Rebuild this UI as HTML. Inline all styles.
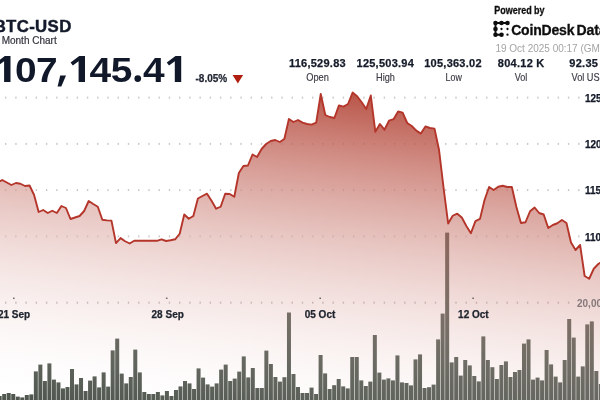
<!DOCTYPE html>
<html><head><meta charset="utf-8"><title>BTC-USD</title>
<style>
html,body{margin:0;padding:0;background:#fff;width:600px;height:400px;overflow:hidden;}
#c{width:600px;height:400px;overflow:hidden;position:relative;background:#fff;font-family:"Liberation Sans",sans-serif;}
svg{position:absolute;left:-20px;top:-20px;display:block;filter:blur(0.4px);}
text{font-family:"Liberation Sans",sans-serif;}
</style></head><body><div id="c">
<svg width="640" height="440" viewBox="-20 -20 640 440">
<defs>
<linearGradient id="ag" gradientUnits="userSpaceOnUse" x1="0" y1="50.3" x2="-42.2" y2="401.9">
<stop offset="0" stop-color="#a82919" stop-opacity="0.795"/>
<stop offset="1" stop-color="#ffffff" stop-opacity="0"/>
</linearGradient>
<filter id="lb" x="-5%" y="-20%" width="110%" height="140%"><feGaussianBlur stdDeviation="0.45"/></filter>
</defs>
<rect x="-20" y="-20" width="640" height="440" fill="#fff"/>
<g fill="#c9c9c9"><rect x="5.00" y="96.60" width="1.4" height="2"/><rect x="15.23" y="96.60" width="1.4" height="2"/><rect x="25.47" y="96.60" width="1.4" height="2"/><rect x="35.70" y="96.60" width="1.4" height="2"/><rect x="45.94" y="96.60" width="1.4" height="2"/><rect x="56.17" y="96.60" width="1.4" height="2"/><rect x="66.40" y="96.60" width="1.4" height="2"/><rect x="76.64" y="96.60" width="1.4" height="2"/><rect x="86.87" y="96.60" width="1.4" height="2"/><rect x="97.11" y="96.60" width="1.4" height="2"/><rect x="107.34" y="96.60" width="1.4" height="2"/><rect x="117.57" y="96.60" width="1.4" height="2"/><rect x="127.81" y="96.60" width="1.4" height="2"/><rect x="138.04" y="96.60" width="1.4" height="2"/><rect x="148.28" y="96.60" width="1.4" height="2"/><rect x="158.51" y="96.60" width="1.4" height="2"/><rect x="168.74" y="96.60" width="1.4" height="2"/><rect x="178.98" y="96.60" width="1.4" height="2"/><rect x="189.21" y="96.60" width="1.4" height="2"/><rect x="199.45" y="96.60" width="1.4" height="2"/><rect x="209.68" y="96.60" width="1.4" height="2"/><rect x="219.91" y="96.60" width="1.4" height="2"/><rect x="230.15" y="96.60" width="1.4" height="2"/><rect x="240.38" y="96.60" width="1.4" height="2"/><rect x="250.62" y="96.60" width="1.4" height="2"/><rect x="260.85" y="96.60" width="1.4" height="2"/><rect x="271.08" y="96.60" width="1.4" height="2"/><rect x="281.32" y="96.60" width="1.4" height="2"/><rect x="291.55" y="96.60" width="1.4" height="2"/><rect x="301.79" y="96.60" width="1.4" height="2"/><rect x="312.02" y="96.60" width="1.4" height="2"/><rect x="322.25" y="96.60" width="1.4" height="2"/><rect x="332.49" y="96.60" width="1.4" height="2"/><rect x="342.72" y="96.60" width="1.4" height="2"/><rect x="352.96" y="96.60" width="1.4" height="2"/><rect x="363.19" y="96.60" width="1.4" height="2"/><rect x="373.42" y="96.60" width="1.4" height="2"/><rect x="383.66" y="96.60" width="1.4" height="2"/><rect x="393.89" y="96.60" width="1.4" height="2"/><rect x="404.13" y="96.60" width="1.4" height="2"/><rect x="414.36" y="96.60" width="1.4" height="2"/><rect x="424.59" y="96.60" width="1.4" height="2"/><rect x="434.83" y="96.60" width="1.4" height="2"/><rect x="445.06" y="96.60" width="1.4" height="2"/><rect x="455.30" y="96.60" width="1.4" height="2"/><rect x="465.53" y="96.60" width="1.4" height="2"/><rect x="475.76" y="96.60" width="1.4" height="2"/><rect x="486.00" y="96.60" width="1.4" height="2"/><rect x="496.23" y="96.60" width="1.4" height="2"/><rect x="506.47" y="96.60" width="1.4" height="2"/><rect x="516.70" y="96.60" width="1.4" height="2"/><rect x="526.93" y="96.60" width="1.4" height="2"/><rect x="537.17" y="96.60" width="1.4" height="2"/><rect x="547.40" y="96.60" width="1.4" height="2"/><rect x="557.64" y="96.60" width="1.4" height="2"/><rect x="567.87" y="96.60" width="1.4" height="2"/><rect x="578.10" y="96.60" width="1.4" height="2"/></g><g fill="#c9c9c9"><rect x="5.00" y="142.90" width="1.4" height="2"/><rect x="15.23" y="142.90" width="1.4" height="2"/><rect x="25.47" y="142.90" width="1.4" height="2"/><rect x="35.70" y="142.90" width="1.4" height="2"/><rect x="45.94" y="142.90" width="1.4" height="2"/><rect x="56.17" y="142.90" width="1.4" height="2"/><rect x="66.40" y="142.90" width="1.4" height="2"/><rect x="76.64" y="142.90" width="1.4" height="2"/><rect x="86.87" y="142.90" width="1.4" height="2"/><rect x="97.11" y="142.90" width="1.4" height="2"/><rect x="107.34" y="142.90" width="1.4" height="2"/><rect x="117.57" y="142.90" width="1.4" height="2"/><rect x="127.81" y="142.90" width="1.4" height="2"/><rect x="138.04" y="142.90" width="1.4" height="2"/><rect x="148.28" y="142.90" width="1.4" height="2"/><rect x="158.51" y="142.90" width="1.4" height="2"/><rect x="168.74" y="142.90" width="1.4" height="2"/><rect x="178.98" y="142.90" width="1.4" height="2"/><rect x="189.21" y="142.90" width="1.4" height="2"/><rect x="199.45" y="142.90" width="1.4" height="2"/><rect x="209.68" y="142.90" width="1.4" height="2"/><rect x="219.91" y="142.90" width="1.4" height="2"/><rect x="230.15" y="142.90" width="1.4" height="2"/><rect x="240.38" y="142.90" width="1.4" height="2"/><rect x="250.62" y="142.90" width="1.4" height="2"/><rect x="260.85" y="142.90" width="1.4" height="2"/><rect x="271.08" y="142.90" width="1.4" height="2"/><rect x="281.32" y="142.90" width="1.4" height="2"/><rect x="291.55" y="142.90" width="1.4" height="2"/><rect x="301.79" y="142.90" width="1.4" height="2"/><rect x="312.02" y="142.90" width="1.4" height="2"/><rect x="322.25" y="142.90" width="1.4" height="2"/><rect x="332.49" y="142.90" width="1.4" height="2"/><rect x="342.72" y="142.90" width="1.4" height="2"/><rect x="352.96" y="142.90" width="1.4" height="2"/><rect x="363.19" y="142.90" width="1.4" height="2"/><rect x="373.42" y="142.90" width="1.4" height="2"/><rect x="383.66" y="142.90" width="1.4" height="2"/><rect x="393.89" y="142.90" width="1.4" height="2"/><rect x="404.13" y="142.90" width="1.4" height="2"/><rect x="414.36" y="142.90" width="1.4" height="2"/><rect x="424.59" y="142.90" width="1.4" height="2"/><rect x="434.83" y="142.90" width="1.4" height="2"/><rect x="445.06" y="142.90" width="1.4" height="2"/><rect x="455.30" y="142.90" width="1.4" height="2"/><rect x="465.53" y="142.90" width="1.4" height="2"/><rect x="475.76" y="142.90" width="1.4" height="2"/><rect x="486.00" y="142.90" width="1.4" height="2"/><rect x="496.23" y="142.90" width="1.4" height="2"/><rect x="506.47" y="142.90" width="1.4" height="2"/><rect x="516.70" y="142.90" width="1.4" height="2"/><rect x="526.93" y="142.90" width="1.4" height="2"/><rect x="537.17" y="142.90" width="1.4" height="2"/><rect x="547.40" y="142.90" width="1.4" height="2"/><rect x="557.64" y="142.90" width="1.4" height="2"/><rect x="567.87" y="142.90" width="1.4" height="2"/><rect x="578.10" y="142.90" width="1.4" height="2"/></g><g fill="#c9c9c9"><rect x="5.00" y="189.10" width="1.4" height="2"/><rect x="15.23" y="189.10" width="1.4" height="2"/><rect x="25.47" y="189.10" width="1.4" height="2"/><rect x="35.70" y="189.10" width="1.4" height="2"/><rect x="45.94" y="189.10" width="1.4" height="2"/><rect x="56.17" y="189.10" width="1.4" height="2"/><rect x="66.40" y="189.10" width="1.4" height="2"/><rect x="76.64" y="189.10" width="1.4" height="2"/><rect x="86.87" y="189.10" width="1.4" height="2"/><rect x="97.11" y="189.10" width="1.4" height="2"/><rect x="107.34" y="189.10" width="1.4" height="2"/><rect x="117.57" y="189.10" width="1.4" height="2"/><rect x="127.81" y="189.10" width="1.4" height="2"/><rect x="138.04" y="189.10" width="1.4" height="2"/><rect x="148.28" y="189.10" width="1.4" height="2"/><rect x="158.51" y="189.10" width="1.4" height="2"/><rect x="168.74" y="189.10" width="1.4" height="2"/><rect x="178.98" y="189.10" width="1.4" height="2"/><rect x="189.21" y="189.10" width="1.4" height="2"/><rect x="199.45" y="189.10" width="1.4" height="2"/><rect x="209.68" y="189.10" width="1.4" height="2"/><rect x="219.91" y="189.10" width="1.4" height="2"/><rect x="230.15" y="189.10" width="1.4" height="2"/><rect x="240.38" y="189.10" width="1.4" height="2"/><rect x="250.62" y="189.10" width="1.4" height="2"/><rect x="260.85" y="189.10" width="1.4" height="2"/><rect x="271.08" y="189.10" width="1.4" height="2"/><rect x="281.32" y="189.10" width="1.4" height="2"/><rect x="291.55" y="189.10" width="1.4" height="2"/><rect x="301.79" y="189.10" width="1.4" height="2"/><rect x="312.02" y="189.10" width="1.4" height="2"/><rect x="322.25" y="189.10" width="1.4" height="2"/><rect x="332.49" y="189.10" width="1.4" height="2"/><rect x="342.72" y="189.10" width="1.4" height="2"/><rect x="352.96" y="189.10" width="1.4" height="2"/><rect x="363.19" y="189.10" width="1.4" height="2"/><rect x="373.42" y="189.10" width="1.4" height="2"/><rect x="383.66" y="189.10" width="1.4" height="2"/><rect x="393.89" y="189.10" width="1.4" height="2"/><rect x="404.13" y="189.10" width="1.4" height="2"/><rect x="414.36" y="189.10" width="1.4" height="2"/><rect x="424.59" y="189.10" width="1.4" height="2"/><rect x="434.83" y="189.10" width="1.4" height="2"/><rect x="445.06" y="189.10" width="1.4" height="2"/><rect x="455.30" y="189.10" width="1.4" height="2"/><rect x="465.53" y="189.10" width="1.4" height="2"/><rect x="475.76" y="189.10" width="1.4" height="2"/><rect x="486.00" y="189.10" width="1.4" height="2"/><rect x="496.23" y="189.10" width="1.4" height="2"/><rect x="506.47" y="189.10" width="1.4" height="2"/><rect x="516.70" y="189.10" width="1.4" height="2"/><rect x="526.93" y="189.10" width="1.4" height="2"/><rect x="537.17" y="189.10" width="1.4" height="2"/><rect x="547.40" y="189.10" width="1.4" height="2"/><rect x="557.64" y="189.10" width="1.4" height="2"/><rect x="567.87" y="189.10" width="1.4" height="2"/><rect x="578.10" y="189.10" width="1.4" height="2"/></g><g fill="#c9c9c9"><rect x="5.00" y="235.40" width="1.4" height="2"/><rect x="15.23" y="235.40" width="1.4" height="2"/><rect x="25.47" y="235.40" width="1.4" height="2"/><rect x="35.70" y="235.40" width="1.4" height="2"/><rect x="45.94" y="235.40" width="1.4" height="2"/><rect x="56.17" y="235.40" width="1.4" height="2"/><rect x="66.40" y="235.40" width="1.4" height="2"/><rect x="76.64" y="235.40" width="1.4" height="2"/><rect x="86.87" y="235.40" width="1.4" height="2"/><rect x="97.11" y="235.40" width="1.4" height="2"/><rect x="107.34" y="235.40" width="1.4" height="2"/><rect x="117.57" y="235.40" width="1.4" height="2"/><rect x="127.81" y="235.40" width="1.4" height="2"/><rect x="138.04" y="235.40" width="1.4" height="2"/><rect x="148.28" y="235.40" width="1.4" height="2"/><rect x="158.51" y="235.40" width="1.4" height="2"/><rect x="168.74" y="235.40" width="1.4" height="2"/><rect x="178.98" y="235.40" width="1.4" height="2"/><rect x="189.21" y="235.40" width="1.4" height="2"/><rect x="199.45" y="235.40" width="1.4" height="2"/><rect x="209.68" y="235.40" width="1.4" height="2"/><rect x="219.91" y="235.40" width="1.4" height="2"/><rect x="230.15" y="235.40" width="1.4" height="2"/><rect x="240.38" y="235.40" width="1.4" height="2"/><rect x="250.62" y="235.40" width="1.4" height="2"/><rect x="260.85" y="235.40" width="1.4" height="2"/><rect x="271.08" y="235.40" width="1.4" height="2"/><rect x="281.32" y="235.40" width="1.4" height="2"/><rect x="291.55" y="235.40" width="1.4" height="2"/><rect x="301.79" y="235.40" width="1.4" height="2"/><rect x="312.02" y="235.40" width="1.4" height="2"/><rect x="322.25" y="235.40" width="1.4" height="2"/><rect x="332.49" y="235.40" width="1.4" height="2"/><rect x="342.72" y="235.40" width="1.4" height="2"/><rect x="352.96" y="235.40" width="1.4" height="2"/><rect x="363.19" y="235.40" width="1.4" height="2"/><rect x="373.42" y="235.40" width="1.4" height="2"/><rect x="383.66" y="235.40" width="1.4" height="2"/><rect x="393.89" y="235.40" width="1.4" height="2"/><rect x="404.13" y="235.40" width="1.4" height="2"/><rect x="414.36" y="235.40" width="1.4" height="2"/><rect x="424.59" y="235.40" width="1.4" height="2"/><rect x="434.83" y="235.40" width="1.4" height="2"/><rect x="445.06" y="235.40" width="1.4" height="2"/><rect x="455.30" y="235.40" width="1.4" height="2"/><rect x="465.53" y="235.40" width="1.4" height="2"/><rect x="475.76" y="235.40" width="1.4" height="2"/><rect x="486.00" y="235.40" width="1.4" height="2"/><rect x="496.23" y="235.40" width="1.4" height="2"/><rect x="506.47" y="235.40" width="1.4" height="2"/><rect x="516.70" y="235.40" width="1.4" height="2"/><rect x="526.93" y="235.40" width="1.4" height="2"/><rect x="537.17" y="235.40" width="1.4" height="2"/><rect x="547.40" y="235.40" width="1.4" height="2"/><rect x="557.64" y="235.40" width="1.4" height="2"/><rect x="567.87" y="235.40" width="1.4" height="2"/><rect x="578.10" y="235.40" width="1.4" height="2"/></g>
<path d="M-25.00,190.00 L-2.30,182.50 L2.25,180.00 L6.80,182.50 L11.35,185.00 L15.90,183.00 L20.45,183.75 L25.00,186.00 L29.55,185.50 L34.10,195.00 L38.65,212.00 L43.20,210.00 L47.75,213.00 L52.30,210.75 L56.85,213.00 L61.40,206.00 L65.95,208.00 L70.50,219.00 L75.05,217.50 L79.60,216.00 L84.15,211.00 L88.70,201.00 L93.25,204.00 L97.80,206.75 L102.35,219.75 L106.90,220.40 L111.45,220.60 L116.00,243.10 L120.55,238.10 L125.10,241.25 L129.65,243.50 L134.20,240.80 L138.75,240.60 L143.30,240.80 L147.85,240.80 L152.40,240.80 L156.95,240.80 L161.50,239.30 L166.05,241.00 L170.60,240.30 L175.15,239.30 L179.70,233.75 L184.25,214.50 L188.80,218.75 L193.35,216.00 L197.90,198.50 L202.45,196.00 L207.00,193.70 L211.55,200.75 L216.10,208.70 L220.65,206.75 L225.20,193.70 L229.75,194.00 L234.30,196.70 L238.85,173.00 L243.40,166.00 L247.95,165.50 L252.50,154.50 L257.05,157.00 L261.60,149.00 L266.15,144.00 L270.70,141.00 L275.25,140.00 L279.80,142.00 L284.35,139.00 L288.90,119.00 L293.45,122.00 L298.00,120.00 L302.55,122.60 L307.10,124.00 L311.65,124.60 L316.20,122.60 L320.75,94.00 L325.30,115.00 L329.85,117.00 L334.40,118.00 L338.95,105.40 L343.50,106.60 L348.05,104.00 L352.60,92.60 L357.15,96.25 L361.70,102.25 L366.25,109.00 L370.80,95.50 L375.35,131.80 L379.90,124.00 L384.45,129.70 L389.00,120.70 L393.55,119.20 L398.10,111.50 L402.65,112.60 L407.20,123.00 L411.75,126.00 L416.30,130.60 L420.85,133.60 L425.40,126.40 L429.95,128.00 L434.50,128.60 L439.05,150.00 L443.60,188.00 L448.15,223.50 L452.70,215.75 L457.25,213.70 L461.80,217.50 L466.35,226.00 L470.90,233.20 L475.45,221.20 L480.00,218.90 L484.55,200.00 L489.10,187.00 L493.65,190.00 L498.20,186.75 L502.75,185.75 L507.30,187.00 L511.85,187.00 L516.40,207.00 L520.95,223.00 L525.50,222.25 L530.05,211.25 L534.60,207.50 L539.15,213.00 L543.70,214.50 L548.25,228.00 L552.80,225.00 L557.35,223.25 L561.90,220.00 L566.45,223.00 L571.00,242.50 L575.55,250.00 L580.10,245.00 L584.65,276.00 L589.20,278.75 L593.75,268.75 L598.30,264.00 L602.85,261.00 L625.00,255.00 L625.00,430 L-25.00,430 Z" fill="#fff" fill-opacity="0.3"/>
<g fill="#c2b9b9"><rect x="5.00" y="301.70" width="1.4" height="2"/><rect x="15.23" y="301.70" width="1.4" height="2"/><rect x="25.47" y="301.70" width="1.4" height="2"/><rect x="35.70" y="301.70" width="1.4" height="2"/><rect x="45.94" y="301.70" width="1.4" height="2"/><rect x="56.17" y="301.70" width="1.4" height="2"/><rect x="66.40" y="301.70" width="1.4" height="2"/><rect x="76.64" y="301.70" width="1.4" height="2"/><rect x="86.87" y="301.70" width="1.4" height="2"/><rect x="97.11" y="301.70" width="1.4" height="2"/><rect x="107.34" y="301.70" width="1.4" height="2"/><rect x="117.57" y="301.70" width="1.4" height="2"/><rect x="127.81" y="301.70" width="1.4" height="2"/><rect x="138.04" y="301.70" width="1.4" height="2"/><rect x="148.28" y="301.70" width="1.4" height="2"/><rect x="158.51" y="301.70" width="1.4" height="2"/><rect x="168.74" y="301.70" width="1.4" height="2"/><rect x="178.98" y="301.70" width="1.4" height="2"/><rect x="189.21" y="301.70" width="1.4" height="2"/><rect x="199.45" y="301.70" width="1.4" height="2"/><rect x="209.68" y="301.70" width="1.4" height="2"/><rect x="219.91" y="301.70" width="1.4" height="2"/><rect x="230.15" y="301.70" width="1.4" height="2"/><rect x="240.38" y="301.70" width="1.4" height="2"/><rect x="250.62" y="301.70" width="1.4" height="2"/><rect x="260.85" y="301.70" width="1.4" height="2"/><rect x="271.08" y="301.70" width="1.4" height="2"/><rect x="281.32" y="301.70" width="1.4" height="2"/><rect x="291.55" y="301.70" width="1.4" height="2"/><rect x="301.79" y="301.70" width="1.4" height="2"/><rect x="312.02" y="301.70" width="1.4" height="2"/><rect x="322.25" y="301.70" width="1.4" height="2"/><rect x="332.49" y="301.70" width="1.4" height="2"/><rect x="342.72" y="301.70" width="1.4" height="2"/><rect x="352.96" y="301.70" width="1.4" height="2"/><rect x="363.19" y="301.70" width="1.4" height="2"/><rect x="373.42" y="301.70" width="1.4" height="2"/><rect x="383.66" y="301.70" width="1.4" height="2"/><rect x="393.89" y="301.70" width="1.4" height="2"/><rect x="404.13" y="301.70" width="1.4" height="2"/><rect x="414.36" y="301.70" width="1.4" height="2"/><rect x="424.59" y="301.70" width="1.4" height="2"/><rect x="434.83" y="301.70" width="1.4" height="2"/><rect x="445.06" y="301.70" width="1.4" height="2"/><rect x="455.30" y="301.70" width="1.4" height="2"/><rect x="465.53" y="301.70" width="1.4" height="2"/><rect x="475.76" y="301.70" width="1.4" height="2"/><rect x="486.00" y="301.70" width="1.4" height="2"/><rect x="496.23" y="301.70" width="1.4" height="2"/><rect x="506.47" y="301.70" width="1.4" height="2"/><rect x="516.70" y="301.70" width="1.4" height="2"/><rect x="526.93" y="301.70" width="1.4" height="2"/><rect x="537.17" y="301.70" width="1.4" height="2"/><rect x="547.40" y="301.70" width="1.4" height="2"/><rect x="557.64" y="301.70" width="1.4" height="2"/><rect x="567.87" y="301.70" width="1.4" height="2"/></g>
<g fill="#4b534a"><rect x="-2.32" y="396.0" width="4.0" height="34.0"/><rect x="2.20" y="394.0" width="4.0" height="36.0"/><rect x="6.72" y="393.0" width="4.0" height="37.0"/><rect x="11.24" y="394.0" width="4.0" height="36.0"/><rect x="15.76" y="396.6" width="4.0" height="33.4"/><rect x="20.28" y="397.4" width="4.0" height="32.6"/><rect x="24.80" y="395.0" width="4.0" height="35.0"/><rect x="29.32" y="394.4" width="4.0" height="35.6"/><rect x="33.84" y="371.4" width="4.0" height="58.6"/><rect x="38.36" y="364.6" width="4.0" height="65.4"/><rect x="42.88" y="381.0" width="4.0" height="49.0"/><rect x="47.40" y="363.4" width="4.0" height="66.6"/><rect x="51.92" y="379.6" width="4.0" height="50.4"/><rect x="56.44" y="382.4" width="4.0" height="47.6"/><rect x="60.96" y="388.4" width="4.0" height="41.6"/><rect x="65.48" y="387.0" width="4.0" height="43.0"/><rect x="70.00" y="369.0" width="4.0" height="61.0"/><rect x="74.52" y="384.4" width="4.0" height="45.6"/><rect x="79.04" y="378.0" width="4.0" height="52.0"/><rect x="83.56" y="391.0" width="4.0" height="39.0"/><rect x="88.08" y="380.6" width="4.0" height="49.4"/><rect x="92.60" y="376.4" width="4.0" height="53.6"/><rect x="97.12" y="387.4" width="4.0" height="42.6"/><rect x="101.64" y="372.4" width="4.0" height="57.6"/><rect x="106.16" y="386.6" width="4.0" height="43.4"/><rect x="110.68" y="350.4" width="4.0" height="79.6"/><rect x="115.20" y="338.6" width="4.0" height="91.4"/><rect x="119.72" y="373.6" width="4.0" height="56.4"/><rect x="124.24" y="383.4" width="4.0" height="46.6"/><rect x="128.76" y="377.0" width="4.0" height="53.0"/><rect x="133.28" y="349.6" width="4.0" height="80.4"/><rect x="137.80" y="372.4" width="4.0" height="57.6"/><rect x="142.32" y="392.0" width="4.0" height="38.0"/><rect x="146.84" y="394.0" width="4.0" height="36.0"/><rect x="151.36" y="394.0" width="4.0" height="36.0"/><rect x="155.88" y="392.0" width="4.0" height="38.0"/><rect x="160.40" y="395.4" width="4.0" height="34.6"/><rect x="164.92" y="391.0" width="4.0" height="39.0"/><rect x="169.44" y="396.0" width="4.0" height="34.0"/><rect x="173.96" y="390.0" width="4.0" height="40.0"/><rect x="178.48" y="386.4" width="4.0" height="43.6"/><rect x="183.00" y="381.0" width="4.0" height="49.0"/><rect x="187.52" y="383.4" width="4.0" height="46.6"/><rect x="192.04" y="389.0" width="4.0" height="41.0"/><rect x="196.56" y="368.4" width="4.0" height="61.6"/><rect x="201.08" y="377.6" width="4.0" height="52.4"/><rect x="205.60" y="384.4" width="4.0" height="45.6"/><rect x="210.12" y="386.6" width="4.0" height="43.4"/><rect x="214.64" y="383.4" width="4.0" height="46.6"/><rect x="219.16" y="369.6" width="4.0" height="60.4"/><rect x="223.68" y="364.6" width="4.0" height="65.4"/><rect x="228.20" y="381.0" width="4.0" height="49.0"/><rect x="232.72" y="378.6" width="4.0" height="51.4"/><rect x="237.24" y="371.6" width="4.0" height="58.4"/><rect x="241.76" y="356.4" width="4.0" height="73.6"/><rect x="246.28" y="377.4" width="4.0" height="52.6"/><rect x="250.80" y="368.0" width="4.0" height="62.0"/><rect x="255.32" y="388.0" width="4.0" height="42.0"/><rect x="259.84" y="388.0" width="4.0" height="42.0"/><rect x="264.36" y="350.6" width="4.0" height="79.4"/><rect x="268.88" y="364.0" width="4.0" height="66.0"/><rect x="273.40" y="377.0" width="4.0" height="53.0"/><rect x="277.92" y="381.6" width="4.0" height="48.4"/><rect x="282.44" y="377.2" width="4.0" height="52.8"/><rect x="286.96" y="312.5" width="4.0" height="117.5"/><rect x="291.48" y="374.0" width="4.0" height="56.0"/><rect x="296.00" y="387.0" width="4.0" height="43.0"/><rect x="300.52" y="393.0" width="4.0" height="37.0"/><rect x="305.04" y="393.0" width="4.0" height="37.0"/><rect x="309.56" y="387.6" width="4.0" height="42.4"/><rect x="314.08" y="394.0" width="4.0" height="36.0"/><rect x="318.60" y="355.0" width="4.0" height="75.0"/><rect x="323.12" y="373.4" width="4.0" height="56.6"/><rect x="327.64" y="389.0" width="4.0" height="41.0"/><rect x="332.16" y="385.2" width="4.0" height="44.8"/><rect x="336.68" y="379.0" width="4.0" height="51.0"/><rect x="341.20" y="386.4" width="4.0" height="43.6"/><rect x="345.72" y="388.4" width="4.0" height="41.6"/><rect x="350.24" y="357.0" width="4.0" height="73.0"/><rect x="354.76" y="357.0" width="4.0" height="73.0"/><rect x="359.28" y="380.4" width="4.0" height="49.6"/><rect x="363.80" y="386.0" width="4.0" height="44.0"/><rect x="368.32" y="381.6" width="4.0" height="48.4"/><rect x="372.84" y="335.0" width="4.0" height="95.0"/><rect x="377.36" y="372.6" width="4.0" height="57.4"/><rect x="381.88" y="379.6" width="4.0" height="50.4"/><rect x="386.40" y="378.4" width="4.0" height="51.6"/><rect x="390.92" y="380.4" width="4.0" height="49.6"/><rect x="395.44" y="355.4" width="4.0" height="74.6"/><rect x="399.96" y="382.4" width="4.0" height="47.6"/><rect x="404.48" y="383.0" width="4.0" height="47.0"/><rect x="409.00" y="385.4" width="4.0" height="44.6"/><rect x="413.52" y="359.4" width="4.0" height="70.6"/><rect x="418.04" y="354.4" width="4.0" height="75.6"/><rect x="422.56" y="388.0" width="4.0" height="42.0"/><rect x="427.08" y="387.2" width="4.0" height="42.8"/><rect x="431.60" y="384.6" width="4.0" height="45.4"/><rect x="436.12" y="339.4" width="4.0" height="90.6"/><rect x="440.64" y="313.6" width="4.0" height="116.4"/><rect x="445.16" y="232.6" width="4.0" height="197.4"/><rect x="449.68" y="362.4" width="4.0" height="67.6"/><rect x="454.20" y="357.0" width="4.0" height="73.0"/><rect x="458.72" y="375.6" width="4.0" height="54.4"/><rect x="463.24" y="360.0" width="4.0" height="70.0"/><rect x="467.76" y="365.4" width="4.0" height="64.6"/><rect x="472.28" y="376.0" width="4.0" height="54.0"/><rect x="476.80" y="381.4" width="4.0" height="48.6"/><rect x="481.32" y="336.4" width="4.0" height="93.6"/><rect x="485.84" y="360.0" width="4.0" height="70.0"/><rect x="490.36" y="367.2" width="4.0" height="62.8"/><rect x="494.88" y="379.0" width="4.0" height="51.0"/><rect x="499.40" y="365.0" width="4.0" height="65.0"/><rect x="503.92" y="361.4" width="4.0" height="68.6"/><rect x="508.44" y="377.0" width="4.0" height="53.0"/><rect x="512.96" y="372.0" width="4.0" height="58.0"/><rect x="517.48" y="370.0" width="4.0" height="60.0"/><rect x="522.00" y="343.6" width="4.0" height="86.4"/><rect x="526.52" y="339.4" width="4.0" height="90.6"/><rect x="531.04" y="379.6" width="4.0" height="50.4"/><rect x="535.56" y="377.6" width="4.0" height="52.4"/><rect x="540.08" y="380.4" width="4.0" height="49.6"/><rect x="544.60" y="350.0" width="4.0" height="80.0"/><rect x="549.12" y="364.4" width="4.0" height="65.6"/><rect x="553.64" y="376.6" width="4.0" height="53.4"/><rect x="558.16" y="382.4" width="4.0" height="47.6"/><rect x="562.68" y="360.0" width="4.0" height="70.0"/><rect x="567.20" y="319.0" width="4.0" height="111.0"/><rect x="571.72" y="337.6" width="4.0" height="92.4"/><rect x="576.24" y="376.6" width="4.0" height="53.4"/><rect x="580.76" y="366.4" width="4.0" height="63.6"/><rect x="585.28" y="324.4" width="4.0" height="105.6"/><rect x="589.80" y="321.4" width="4.0" height="108.6"/><rect x="594.32" y="371.0" width="4.0" height="59.0"/><rect x="598.84" y="384.0" width="4.0" height="46.0"/></g>
<path d="M-25.00,190.00 L-2.30,182.50 L2.25,180.00 L6.80,182.50 L11.35,185.00 L15.90,183.00 L20.45,183.75 L25.00,186.00 L29.55,185.50 L34.10,195.00 L38.65,212.00 L43.20,210.00 L47.75,213.00 L52.30,210.75 L56.85,213.00 L61.40,206.00 L65.95,208.00 L70.50,219.00 L75.05,217.50 L79.60,216.00 L84.15,211.00 L88.70,201.00 L93.25,204.00 L97.80,206.75 L102.35,219.75 L106.90,220.40 L111.45,220.60 L116.00,243.10 L120.55,238.10 L125.10,241.25 L129.65,243.50 L134.20,240.80 L138.75,240.60 L143.30,240.80 L147.85,240.80 L152.40,240.80 L156.95,240.80 L161.50,239.30 L166.05,241.00 L170.60,240.30 L175.15,239.30 L179.70,233.75 L184.25,214.50 L188.80,218.75 L193.35,216.00 L197.90,198.50 L202.45,196.00 L207.00,193.70 L211.55,200.75 L216.10,208.70 L220.65,206.75 L225.20,193.70 L229.75,194.00 L234.30,196.70 L238.85,173.00 L243.40,166.00 L247.95,165.50 L252.50,154.50 L257.05,157.00 L261.60,149.00 L266.15,144.00 L270.70,141.00 L275.25,140.00 L279.80,142.00 L284.35,139.00 L288.90,119.00 L293.45,122.00 L298.00,120.00 L302.55,122.60 L307.10,124.00 L311.65,124.60 L316.20,122.60 L320.75,94.00 L325.30,115.00 L329.85,117.00 L334.40,118.00 L338.95,105.40 L343.50,106.60 L348.05,104.00 L352.60,92.60 L357.15,96.25 L361.70,102.25 L366.25,109.00 L370.80,95.50 L375.35,131.80 L379.90,124.00 L384.45,129.70 L389.00,120.70 L393.55,119.20 L398.10,111.50 L402.65,112.60 L407.20,123.00 L411.75,126.00 L416.30,130.60 L420.85,133.60 L425.40,126.40 L429.95,128.00 L434.50,128.60 L439.05,150.00 L443.60,188.00 L448.15,223.50 L452.70,215.75 L457.25,213.70 L461.80,217.50 L466.35,226.00 L470.90,233.20 L475.45,221.20 L480.00,218.90 L484.55,200.00 L489.10,187.00 L493.65,190.00 L498.20,186.75 L502.75,185.75 L507.30,187.00 L511.85,187.00 L516.40,207.00 L520.95,223.00 L525.50,222.25 L530.05,211.25 L534.60,207.50 L539.15,213.00 L543.70,214.50 L548.25,228.00 L552.80,225.00 L557.35,223.25 L561.90,220.00 L566.45,223.00 L571.00,242.50 L575.55,250.00 L580.10,245.00 L584.65,276.00 L589.20,278.75 L593.75,268.75 L598.30,264.00 L602.85,261.00 L625.00,255.00 L625.00,430 L-25.00,430 Z" fill="url(#ag)"/>
<path d="M-25.00,190.00 L-2.30,182.50 L2.25,180.00 L6.80,182.50 L11.35,185.00 L15.90,183.00 L20.45,183.75 L25.00,186.00 L29.55,185.50 L34.10,195.00 L38.65,212.00 L43.20,210.00 L47.75,213.00 L52.30,210.75 L56.85,213.00 L61.40,206.00 L65.95,208.00 L70.50,219.00 L75.05,217.50 L79.60,216.00 L84.15,211.00 L88.70,201.00 L93.25,204.00 L97.80,206.75 L102.35,219.75 L106.90,220.40 L111.45,220.60 L116.00,243.10 L120.55,238.10 L125.10,241.25 L129.65,243.50 L134.20,240.80 L138.75,240.60 L143.30,240.80 L147.85,240.80 L152.40,240.80 L156.95,240.80 L161.50,239.30 L166.05,241.00 L170.60,240.30 L175.15,239.30 L179.70,233.75 L184.25,214.50 L188.80,218.75 L193.35,216.00 L197.90,198.50 L202.45,196.00 L207.00,193.70 L211.55,200.75 L216.10,208.70 L220.65,206.75 L225.20,193.70 L229.75,194.00 L234.30,196.70 L238.85,173.00 L243.40,166.00 L247.95,165.50 L252.50,154.50 L257.05,157.00 L261.60,149.00 L266.15,144.00 L270.70,141.00 L275.25,140.00 L279.80,142.00 L284.35,139.00 L288.90,119.00 L293.45,122.00 L298.00,120.00 L302.55,122.60 L307.10,124.00 L311.65,124.60 L316.20,122.60 L320.75,94.00 L325.30,115.00 L329.85,117.00 L334.40,118.00 L338.95,105.40 L343.50,106.60 L348.05,104.00 L352.60,92.60 L357.15,96.25 L361.70,102.25 L366.25,109.00 L370.80,95.50 L375.35,131.80 L379.90,124.00 L384.45,129.70 L389.00,120.70 L393.55,119.20 L398.10,111.50 L402.65,112.60 L407.20,123.00 L411.75,126.00 L416.30,130.60 L420.85,133.60 L425.40,126.40 L429.95,128.00 L434.50,128.60 L439.05,150.00 L443.60,188.00 L448.15,223.50 L452.70,215.75 L457.25,213.70 L461.80,217.50 L466.35,226.00 L470.90,233.20 L475.45,221.20 L480.00,218.90 L484.55,200.00 L489.10,187.00 L493.65,190.00 L498.20,186.75 L502.75,185.75 L507.30,187.00 L511.85,187.00 L516.40,207.00 L520.95,223.00 L525.50,222.25 L530.05,211.25 L534.60,207.50 L539.15,213.00 L543.70,214.50 L548.25,228.00 L552.80,225.00 L557.35,223.25 L561.90,220.00 L566.45,223.00 L571.00,242.50 L575.55,250.00 L580.10,245.00 L584.65,276.00 L589.20,278.75 L593.75,268.75 L598.30,264.00 L602.85,261.00 L625.00,255.00" fill="none" stroke="#b4352a" stroke-width="1.9" stroke-linejoin="round" stroke-linecap="round"/>
<rect x="13.0" y="297.7" width="1.6" height="1.0" fill="#333"/><rect x="165.9" y="297.7" width="1.6" height="1.0" fill="#333"/><rect x="319.4" y="297.7" width="1.6" height="1.0" fill="#333"/><rect x="472.3" y="297.7" width="1.6" height="1.0" fill="#333"/>
<g font-size="10" font-weight="700" fill="#20252f" stroke="#20252f" stroke-width="0.25"><text x="14.0" y="317.7" text-anchor="middle">21 Sep</text><text x="167.7" y="317.7" text-anchor="middle">28 Sep</text><text x="320.0" y="317.7" text-anchor="middle">05 Oct</text><text x="473.4" y="317.7" text-anchor="middle">12 Oct</text></g>
<g font-size="10" font-weight="700" fill="#141a28" stroke="#141a28" stroke-width="0.25"><text x="585" y="101.9">125,000</text><text x="585" y="148.2">120,000</text><text x="585" y="194.4">115,000</text><text x="585" y="240.7">110,000</text></g>
<text x="577" y="306.8" font-size="10" font-weight="700" fill="#85787a">20,000</text>

<!-- header -->
<text x="71.6" y="32.2" text-anchor="end" font-size="16.8" font-weight="700" fill="#141a2b" stroke="#141a2b" stroke-width="0.45" letter-spacing="0.35">BTC-USD</text>
<text x="56.7" y="43.5" text-anchor="end" font-size="10" fill="#33343e" stroke="#33343e" stroke-width="0.2">1 Month Chart</text>
<g fill="#10182a" font-size="36" font-weight="700"><path d="M10.50,55.9 L4.80,55.9 L-3.90,62.60 L-1.70,65.60 L4.10,61.30 L4.10,81.9 L10.50,81.9 Z"/><path d="M85.00,55.9 L79.30,55.9 L70.60,62.60 L72.80,65.60 L78.60,61.30 L78.60,81.9 L85.00,81.9 Z"/><path d="M181.20,55.9 L175.50,55.9 L166.80,62.60 L169.00,65.60 L174.80,61.30 L174.80,81.9 L181.20,81.9 Z"/><text transform="translate(25.75,81.9) scale(1.08,1)" text-anchor="middle">0</text><text transform="translate(46.75,81.9) scale(1.08,1)" text-anchor="middle">7</text><text transform="translate(100.25,81.9) scale(1.08,1)" text-anchor="middle">4</text><text transform="translate(121.50,81.9) scale(1.08,1)" text-anchor="middle">5</text><text transform="translate(153.75,81.9) scale(1.08,1)" text-anchor="middle">4</text><circle cx="137.75" cy="78.55" r="3.35"/><path d="M60.2,75.4 L66.0,75.4 L61.3,86.6 L57.6,86.6 Z"/></g>
<text x="195.5" y="82.1" font-size="10" font-weight="700" fill="#232834" stroke="#232834" stroke-width="0.25">-8.05%</text>
<path d="M232.6,74.9 L243.1,74.9 L237.85,83.4 Z" fill="#b01e10"/>

<g font-size="11" font-weight="700" fill="#141a28" stroke="#141a28" stroke-width="0.25" text-anchor="middle" letter-spacing="0.25">
<text x="317.4" y="66.9">116,529.83</text>
<text x="385.3" y="66.9">125,503.94</text>
<text x="453" y="66.9">105,363.02</text>
<text x="521.2" y="66.9">804.12 K</text>
<text x="589.5" y="66.9">92.35 B</text>
</g>
<g font-size="10.2" fill="#3a3a44" stroke="#3a3a44" stroke-width="0.15" text-anchor="middle">
<text x="317.6" y="80.9" textLength="22.6" lengthAdjust="spacingAndGlyphs">Open</text>
<text x="385.5" y="80.9" textLength="18.8" lengthAdjust="spacingAndGlyphs">High</text>
<text x="453.7" y="80.9" textLength="16.2" lengthAdjust="spacingAndGlyphs">Low</text>
<text x="521" y="80.9" textLength="12.6" lengthAdjust="spacingAndGlyphs">Vol</text>
<text x="571.5" y="80.9" text-anchor="start" textLength="34.8" lengthAdjust="spacingAndGlyphs">Vol USD</text>
</g>

<g filter="url(#lb)">
<text x="494.2" y="13.7" font-size="10.8" font-weight="700" fill="#111" stroke="#111" stroke-width="0.3" textLength="50.4" lengthAdjust="spacingAndGlyphs">Powered by</text>
<g fill="#111" stroke="#111">
<path d="M507.5,23 L495.5,23 L495.5,34.7 L501.5,34.7" fill="none" stroke-width="1.9" stroke-linejoin="round" stroke-linecap="round"/>
<g stroke="none">
<circle cx="495.5" cy="23" r="2.3"/><circle cx="501.5" cy="23" r="2.3"/><circle cx="507.5" cy="23" r="2.3"/>
<circle cx="495.5" cy="29" r="2.3"/><circle cx="495.5" cy="34.7" r="2.3"/><circle cx="501.5" cy="34.7" r="2.3"/>
<circle cx="501.5" cy="29" r="1.15"/><circle cx="507.5" cy="29" r="1.15"/><circle cx="507.5" cy="34.7" r="1.15"/>
</g></g>
<text x="511.2" y="34.7" font-size="14" font-weight="700" fill="#0c0c0c" stroke="#0c0c0c" stroke-width="0.3" letter-spacing="-0.18">CoinDesk</text>
<text x="576.5" y="34.7" font-size="14" font-weight="700" fill="#0c0c0c" stroke="#0c0c0c" stroke-width="0.3" letter-spacing="-0.1">Data</text>
</g>
<text x="495.4" y="51.5" font-size="10" fill="#a4a4a4">19 Oct 2025 00:17 (GMT)</text>
</svg>
</div></body></html>
